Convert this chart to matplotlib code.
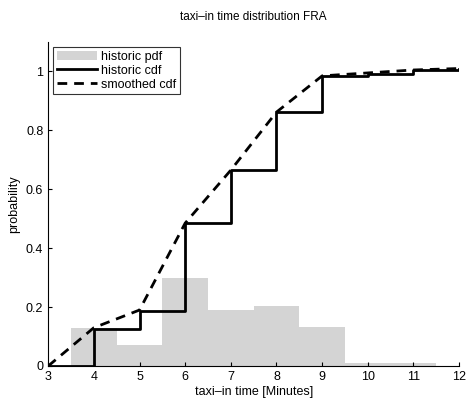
import matplotlib.pyplot as plt

plt.rcParams['font.family'] = ['Liberation Sans', 'DejaVu Sans']

# histogram (pdf) per minute bin
bin_centers = [4, 5, 6, 7, 8, 9, 10, 11]
pdf = [0.13, 0.07, 0.30, 0.19, 0.205, 0.133, 0.01, 0.01]

# cdf points
cdf_x = [3, 4, 5, 6, 7, 8, 9, 10, 11, 12]
hist_cdf = [0, 0.125, 0.188, 0.485, 0.665, 0.862, 0.985, 0.99, 1.005, 1.01]
smooth_cdf = [0, 0.13, 0.19, 0.485, 0.665, 0.862, 0.985, 0.995, 1.005, 1.01]

fig = plt.figure(figsize=(4.68, 4.0), dpi=100)
ax = fig.add_axes([0.103, 0.085, 0.878, 0.81])

b = ax.bar(bin_centers, pdf, width=1.0, color='#d4d4d4', edgecolor='none', label='historic pdf')
l1, = ax.step(cdf_x, hist_cdf, where='post', color='black', lw=2, label='historic cdf')
l2, = ax.plot(cdf_x, smooth_cdf, color='black', lw=2, ls=(0, (3.5, 2.5)), label='smoothed cdf')

ax.set_xlim(3, 12)
ax.set_ylim(0, 1.1)
ax.set_xticks(range(3, 13))
ax.set_yticks([0, 0.2, 0.4, 0.6, 0.8, 1])
ax.set_yticklabels(['0', '0.2', '0.4', '0.6', '0.8', '1'])
ax.tick_params(direction='in', labelsize=9, length=3)
ax.spines['top'].set_visible(False)
ax.spines['right'].set_visible(False)

ax.set_xlabel('taxi\u2013in time [Minutes]', fontsize=9, labelpad=2)
ax.set_ylabel('probability', fontsize=9)
ax.set_title('taxi\u2013in time distribution FRA', fontsize=8.5, pad=16)

leg = ax.legend([b, l1, l2], ['historic pdf', 'historic cdf', 'smoothed cdf'],
                loc='upper left', fontsize=9, frameon=True, fancybox=False,
                edgecolor='black', borderpad=0.3, handlelength=3.2,
                handletextpad=0.3, labelspacing=0.15, borderaxespad=0.4)
leg.get_frame().set_linewidth(0.8)

fig.savefig('out.png', dpi=100)
